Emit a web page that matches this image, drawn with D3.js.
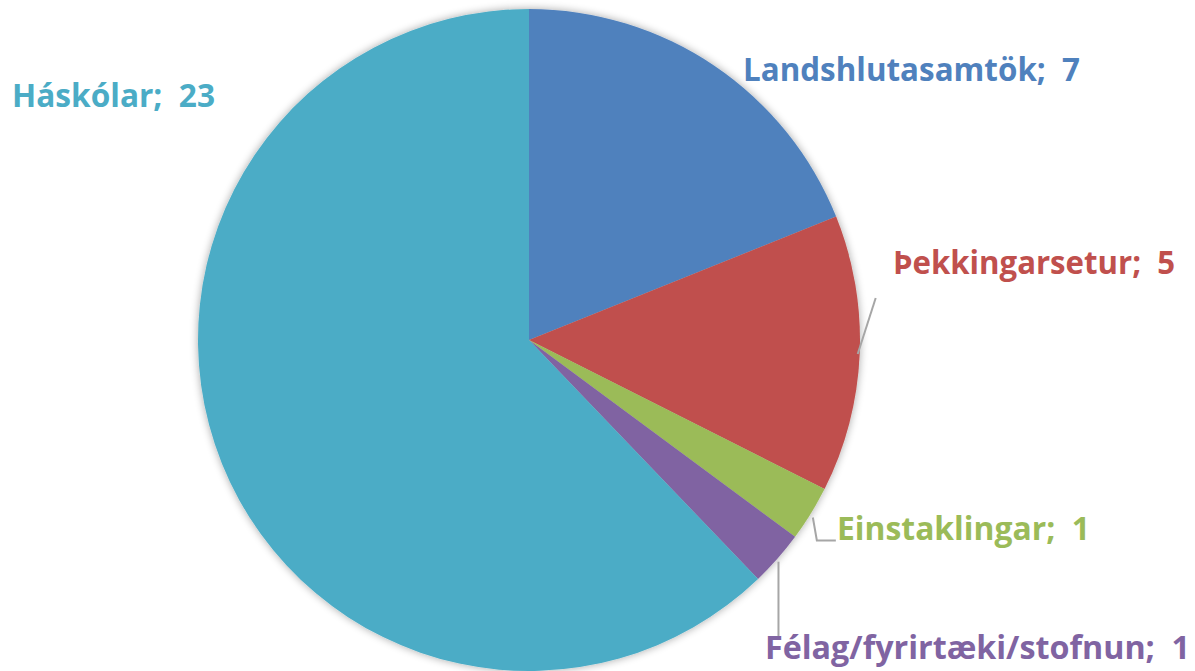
<!DOCTYPE html>
<html>
<head>
<meta charset="utf-8">
<script src="https://cdn.jsdelivr.net/npm/d3@7"></script>
<style>
  body { margin: 0; background: #fff; }
  svg { display: block; }
  .lbl { font-family: "Open Sans", "DejaVu Sans", sans-serif; font-weight: bold; }
</style>
</head>
<body>
<div id="chart"></div>
<script>
const categories = ["Landshlutasamtök", "Þekkingarsetur", "Einstaklingar", "Félag/fyrirtæki/stofnun", "Háskólar"];
const values = [7, 5, 1, 1, 23];
const colors = ["#4F81BD", "#C0504D", "#9BBB59", "#8064A2", "#4BACC6"];

const width = 1195, height = 671;
const cx = 529, cy = 340, radius = 331;

const svg = d3.select("#chart").append("svg")
    .attr("width", width)
    .attr("height", height);

// soft shadow round the pie
const defs = svg.append("defs");
const f = defs.append("filter").attr("id", "shadow")
    .attr("x", "-10%").attr("y", "-10%").attr("width", "120%").attr("height", "120%");
f.append("feGaussianBlur").attr("in", "SourceAlpha").attr("stdDeviation", 4);
f.append("feOffset").attr("dx", 0).attr("dy", 0).attr("result", "b");
f.append("feComponentTransfer").append("feFuncA").attr("type", "linear").attr("slope", 0.35);
const m = f.append("feMerge");
m.append("feMergeNode");
m.append("feMergeNode").attr("in", "SourceGraphic");

const data = categories.map((c, i) => ({name: c, value: values[i], color: colors[i]}));

const pie = d3.pie().sort(null).value(d => d.value);
const arc = d3.arc().innerRadius(0).outerRadius(radius);
const arcs = pie(data);

const g = svg.append("g").attr("transform", `translate(${cx},${cy})`);

g.append("g")
    .attr("filter", "url(#shadow)")
    .selectAll("path")
    .data(arcs)
    .enter()
    .append("path")
    .attr("d", arc)
    .attr("fill", d => d.data.color);

// label placement: [x, baseline y, text width]
const labelPos = {
    "Landshlutasamtök": [743, 81, 337],
    "Þekkingarsetur": [893, 274, 282],
    "Einstaklingar": [837, 540, 253],
    "Félag/fyrirtæki/stofnun": [765, 659, 425],
    "Háskólar": [12, 107, 203]
};

// leader lines (point on arc edge -> label)
function edgePoint(d, r) {
    const a = (d.startAngle + d.endAngle) / 2;
    return [cx + Math.sin(a) * r, cy - Math.cos(a) * r];
}

const leaders = svg.append("g")
    .attr("fill", "none")
    .attr("stroke", "#a6a6a6")
    .attr("stroke-width", 2);

arcs.forEach(d => {
    const p = edgePoint(d, radius);
    if (d.data.name === "Þekkingarsetur") {
        leaders.append("path").attr("d", `M${p[0] - 2},${p[1]}L${p[0] + 16},${p[1] - 56}`);
    } else if (d.data.name === "Einstaklingar") {
        leaders.append("path").attr("d", `M${p[0] + 2},${p[1] + 4}L${p[0] + 6},${p[1] + 27}L${p[0] + 25},${p[1] + 27}`);
    } else if (d.data.name === "Félag/fyrirtæki/stofnun") {
        leaders.append("path").attr("d", `M${p[0] + 1},${p[1] + 3}L${p[0] + 1},${p[1] + 78}`);
    }
});

svg.append("g")
    .selectAll("text")
    .data(arcs)
    .enter()
    .append("text")
    .attr("class", "lbl")
    .attr("x", d => labelPos[d.data.name][0])
    .attr("y", d => labelPos[d.data.name][1])
    .attr("font-size", "32px")
    .attr("fill", d => d.data.color)
    .attr("textLength", d => labelPos[d.data.name][2])
    .attr("lengthAdjust", "spacingAndGlyphs")
    .text(d => d.data.name + ";\u00a0 " + d.data.value);
</script>
</body>
</html>
